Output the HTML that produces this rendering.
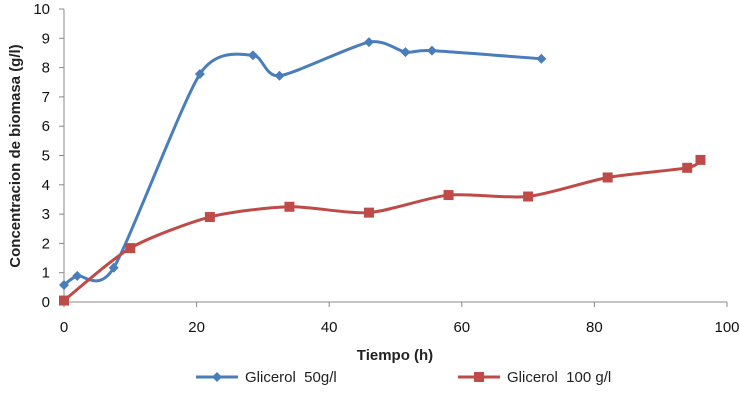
<!DOCTYPE html>
<html><head><meta charset="utf-8">
<style>
body{margin:0;background:#fff;}
svg{display:block;font-family:"Liberation Sans",sans-serif;}
</style></head>
<body>
<svg id="chart" width="740" height="408" viewBox="0 0 740 408">
<g id="axes"></g>
<g id="series"></g>
<text x="395" y="360" text-anchor="middle" font-size="15" font-weight="bold" fill="#222">Tiempo (h)</text>
<text transform="translate(20,156) rotate(-90)" text-anchor="middle" font-size="15" font-weight="bold" fill="#222">Concentracion de biomasa (g/l)</text>
<g>
<g>
<line x1="196" y1="377" x2="238" y2="377" stroke="#4a7ebb" stroke-width="3"/>
<path d="M217 372 L222 377 L217 382 L212 377Z" fill="#4a7ebb"/>
<text x="245" y="382" font-size="15" fill="#222">Glicerol&#160; 50g/l</text></g>
<g>
<line x1="458" y1="377" x2="500" y2="377" stroke="#be4b48" stroke-width="3"/>
<rect x="474" y="372" width="10" height="10" fill="#be4b48"/>
<text x="507" y="382" font-size="15" fill="#222">Glicerol&#160; 100 g/l</text></g>
</g>
</svg>
<script>
const xTicks=[0,20,40,60,80,100];
const yTicks=[0,1,2,3,4,5,6,7,8,9,10];
const blueX=[0,2,7.5,20.5,28.5,32.5,46,51.5,55.5,72];
const blueY=[0.58,0.89,1.17,7.78,8.42,7.72,8.87,8.53,8.58,8.3];
const redX=[0,10,22,34,46,58,70,82,94,96];
const redY=[0.05,1.84,2.9,3.25,3.05,3.65,3.6,4.25,4.58,4.85];
const X0=64,X1=727,Y0=302,Y1=9;
const sx=v=>X0+(X1-X0)*v/100, sy=v=>Y0-(Y0-Y1)*v/10;
const NS="http://www.w3.org/2000/svg";
const ax=document.getElementById('axes'), se=document.getElementById('series');
function mk(t,a,p){const e=document.createElementNS(NS,t);for(const k in a)e.setAttribute(k,a[k]);p.appendChild(e);return e;}
let l=mk('line',{x1:X0,y1:Y1,x2:X0,y2:Y0,stroke:'#888','stroke-width':1},ax);


l=mk('line',{x1:X0,y1:Y0,x2:X1,y2:Y0,stroke:'#888','stroke-width':1},ax);


yTicks.forEach(v=>{mk('line',{x1:X0-5,y1:sy(v),x2:X0,y2:sy(v),stroke:'#888'},ax);
const t=mk('text',{x:X0-14,y:sy(v)+5,'text-anchor':'end','font-size':15,fill:'#111'},ax);t.textContent=v;

});
xTicks.forEach(v=>{mk('line',{x1:sx(v),y1:Y0,x2:sx(v),y2:Y0+5,stroke:'#888'},ax);
const t=mk('text',{x:sx(v),y:Y0+30,'text-anchor':'middle','font-size':15,fill:'#111'},ax);t.textContent=v;

});
function smooth(xs,ys){const p=xs.map((x,i)=>[sx(x),sy(ys[i])]);let d='M'+p[0][0]+' '+p[0][1];const k=8;
for(let i=0;i<p.length-1;i++){const a=p[i-1]||p[i],b=p[i],c=p[i+1],e=p[i+2]||c;
d+=` C${b[0]+(c[0]-a[0])/k} ${b[1]+(c[1]-a[1])/k} ${c[0]-(e[0]-b[0])/k} ${c[1]-(e[1]-b[1])/k} ${c[0]} ${c[1]}`;}return d;}
const pb=mk('path',{d:smooth(blueX,blueY),fill:'none',stroke:'#4a7ebb','stroke-width':3},se);


const pr=mk('path',{d:smooth(redX,redY),fill:'none',stroke:'#be4b48','stroke-width':3},se);


blueX.forEach((x,i)=>{const cx=sx(x),cy=sy(blueY[i]);
const m=mk('path',{d:`M${cx} ${cy-5}L${cx+5} ${cy}L${cx} ${cy+5}L${cx-5} ${cy}Z`,fill:'#4a7ebb'},se);

});
redX.forEach((x,i)=>{const cx=sx(x),cy=sy(redY[i]);
const m=mk('rect',{x:cx-5,y:cy-5,width:10,height:10,fill:'#be4b48'},se);

});
</script>
</body></html>
